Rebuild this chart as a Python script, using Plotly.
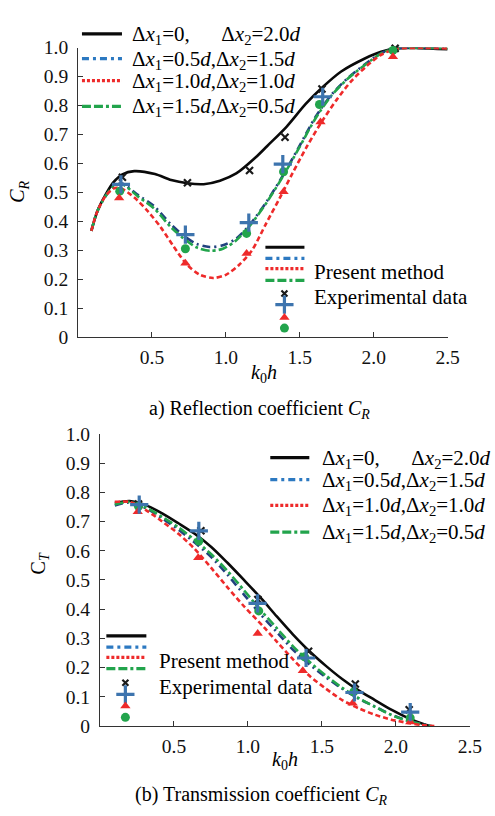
import plotly.graph_objects as go

# ---------------- (a) Reflection coefficient C_R : model curves ----------------
kR_black = [0.09, 0.13, 0.19, 0.24, 0.30, 0.38, 0.52, 0.63, 0.74, 0.85, 0.96, 1.07, 1.20, 1.28,
            1.41, 1.54, 1.65, 1.78, 1.94, 2.05, 2.16, 2.30, 2.50]
CR_black = [0.367, 0.434, 0.495, 0.535, 0.562, 0.573, 0.563, 0.542, 0.531, 0.528, 0.540, 0.565, 0.620, 0.660,
            0.726, 0.805, 0.861, 0.917, 0.962, 0.985, 0.997, 0.998, 0.994]

kR_blue = [0.09, 0.13, 0.19, 0.24, 0.297, 0.407, 0.517, 0.627, 0.715, 0.80, 0.89, 0.98, 1.067, 1.155,
           1.276, 1.386, 1.497, 1.606, 1.716, 1.826, 1.936, 2.046, 2.134, 2.30, 2.50]
CR_blue = [0.367, 0.434, 0.490, 0.520, 0.530, 0.490, 0.451, 0.390, 0.350, 0.322, 0.311, 0.317, 0.339, 0.384,
           0.468, 0.558, 0.659, 0.760, 0.838, 0.895, 0.940, 0.979, 0.996, 0.999, 0.997]

kR_green = [0.09, 0.13, 0.19, 0.24, 0.297, 0.407, 0.517, 0.627, 0.715, 0.80, 0.89, 0.98, 1.067, 1.155,
            1.276, 1.386, 1.497, 1.606, 1.716, 1.826, 1.936, 2.046, 2.134, 2.30, 2.50]
CR_green = [0.367, 0.434, 0.490, 0.520, 0.528, 0.485, 0.443, 0.380, 0.340, 0.310, 0.298, 0.305, 0.333, 0.380,
            0.465, 0.555, 0.655, 0.755, 0.835, 0.893, 0.938, 0.978, 0.995, 0.999, 0.997]

kR_red = [0.09, 0.13, 0.19, 0.25, 0.297, 0.385, 0.473, 0.561, 0.649, 0.737, 0.825, 0.913, 1.00, 1.089,
          1.177, 1.27, 1.364, 1.45, 1.55, 1.65, 1.75, 1.85, 1.95, 2.05, 2.15, 2.30, 2.50]
CR_red = [0.367, 0.434, 0.490, 0.515, 0.512, 0.480, 0.434, 0.378, 0.311, 0.250, 0.215, 0.204, 0.215, 0.249,
          0.300, 0.390, 0.480, 0.565, 0.660, 0.745, 0.820, 0.885, 0.935, 0.975, 0.995, 0.999, 0.997]

# ---------------- (a) experimental data ----------------
kR_exp_black = [0.30, 0.74, 1.16, 1.40, 1.65, 2.145]
CR_exp_black = [0.552, 0.533, 0.575, 0.690, 0.857, 0.997]
kR_exp_blue = [0.29, 0.726, 1.155, 1.385, 1.655, 2.128]
CR_exp_blue = [0.527, 0.354, 0.395, 0.597, 0.830, 1.003]
kR_exp_red = [0.278, 0.726, 1.14, 1.39, 1.64, 2.13]
CR_exp_red = [0.480, 0.255, 0.289, 0.502, 0.743, 0.968]
kR_exp_green = [0.282, 0.726, 1.14, 1.39, 1.633, 2.13]
CR_exp_green = [0.504, 0.305, 0.358, 0.571, 0.803, 0.990]

# ---------------- (b) Transmission coefficient C_T : model curves ----------------
kT_black = [0.10, 0.20, 0.31, 0.42, 0.53, 0.64, 0.752, 0.863, 0.973, 1.084, 1.195, 1.305, 1.416, 1.527,
            1.637, 1.748, 1.858, 1.969, 2.08, 2.19, 2.23]
CT_black = [0.763, 0.770, 0.756, 0.728, 0.694, 0.658, 0.613, 0.558, 0.500, 0.440, 0.375, 0.313, 0.256, 0.206,
            0.161, 0.122, 0.089, 0.056, 0.028, 0.006, 0.0]

kT_blue = [0.10, 0.20, 0.31, 0.42, 0.53, 0.64, 0.752, 0.863, 0.973, 1.084, 1.195, 1.305, 1.416, 1.527,
           1.637, 1.748, 1.858, 1.969, 2.08, 2.21, 2.24]
CT_blue = [0.755, 0.765, 0.745, 0.711, 0.672, 0.628, 0.578, 0.517, 0.450, 0.383, 0.322, 0.261, 0.211, 0.167,
           0.128, 0.094, 0.067, 0.039, 0.019, 0.003, 0.0]

kT_green = [0.10, 0.20, 0.31, 0.42, 0.53, 0.64, 0.752, 0.863, 0.973, 1.084, 1.195, 1.305, 1.416, 1.527,
            1.637, 1.748, 1.858, 1.969, 2.08, 2.20, 2.24]
CT_green = [0.758, 0.767, 0.748, 0.716, 0.680, 0.637, 0.588, 0.530, 0.465, 0.398, 0.335, 0.273, 0.220, 0.173,
            0.131, 0.096, 0.066, 0.038, 0.018, 0.003, 0.0]

kT_red = [0.10, 0.20, 0.31, 0.42, 0.53, 0.64, 0.752, 0.863, 0.973, 1.107, 1.195, 1.305, 1.416, 1.527,
          1.637, 1.748, 1.858, 1.969, 2.08, 2.17, 2.26]
CT_red = [0.767, 0.767, 0.739, 0.700, 0.658, 0.606, 0.541, 0.474, 0.410, 0.339, 0.289, 0.228, 0.172, 0.128,
          0.089, 0.061, 0.039, 0.022, 0.011, 0.004, 0.0]

# ---------------- (b) experimental data ----------------
kT_exp_black = [0.26, 0.682, 1.067, 1.41, 1.726, 2.09]
CT_exp_black = [0.760, 0.668, 0.433, 0.256, 0.144, 0.056]
kT_exp_blue = [0.265, 0.668, 1.065, 1.393, 1.72, 2.097]
CT_exp_blue = [0.758, 0.668, 0.420, 0.233, 0.115, 0.048]
kT_exp_red = [0.255, 0.664, 1.066, 1.371, 1.708, 2.097]
CT_exp_red = [0.733, 0.576, 0.317, 0.189, 0.078, 0.014]
kT_exp_green = [0.26, 0.668, 1.073, 1.383, 1.715, 2.097]
CT_exp_green = [0.752, 0.633, 0.394, 0.237, 0.117, 0.028]

# ---------------- labels ----------------
x_tick_vals = [0.5, 1.0, 1.5, 2.0, 2.5]
x_tick_text = ["0.5", "1.0", "1.5", "2.0", "2.5"]
y_tick_vals = [0, 0.1, 0.2, 0.3, 0.4, 0.5, 0.6, 0.7, 0.8, 0.9, 1.0]
y_tick_text = ["0", "0.1", "0.2", "0.3", "0.4", "0.5", "0.6", "0.7", "0.8", "0.9", "1.0"]
nb = "\u00a0"
series_labels = [
    "Δ<i>x</i><sub>1</sub>=0," + nb * 6 + "Δ<i>x</i><sub>2</sub>=2.0<i>d</i>",
    "Δ<i>x</i><sub>1</sub>=0.5<i>d</i>,Δ<i>x</i><sub>2</sub>=1.5<i>d</i>",
    "Δ<i>x</i><sub>1</sub>=1.0<i>d</i>,Δ<i>x</i><sub>2</sub>=1.0<i>d</i>",
    "Δ<i>x</i><sub>1</sub>=1.5<i>d</i>,Δ<i>x</i><sub>2</sub>=0.5<i>d</i>",
]
method_label = "Present method"
exp_label = "Experimental data"
caption_a = "a) Reflection coefficient <i>C</i><sub><i>R</i></sub>"
caption_b = "(b) Transmission coefficient <i>C</i><sub><i>R</i></sub>"
ytitle_a = "<i>C</i><sub><i>R</i></sub>"
ytitle_b = "C<sub><i>T</i></sub>"
xtitle = "<i>k</i><sub>0</sub><i>h</i>"

# ---------------- styles ----------------
FONT = "Liberation Serif, Times New Roman, serif"
C_BLACK = "#0a0a0a"
C_BLUE_LINE = "#22427f"
C_BLUE_KEY = "#2c79c1"
C_RED = "#ee2a2a"
C_GREEN = "#22a44c"
C_PLUS = "#3d74ae"
LW = 2.6
DASH_BLUE = "8px,4px,2px,4px"
DASH_RED = "5px,3px"
DASH_GREEN = "9px,3px,3px,3px"

fig = go.Figure()


def add_panel(xa, ya, k_list, v_list, exp_k, exp_v):
    colors = [C_BLACK, C_BLUE_LINE, C_RED, C_GREEN]
    dashes = ["solid", DASH_BLUE, DASH_RED, DASH_GREEN]
    order = [0, 1, 3, 2]
    for i in order:
        fig.add_trace(go.Scatter(x=k_list[i], y=v_list[i], mode="lines", xaxis=xa, yaxis=ya,
                                 line=dict(color=colors[i], width=LW, dash=dashes[i], shape="spline",
                                           smoothing=0.8),
                                 hoverinfo="skip", showlegend=False))
    msyms = ["x-thin", "cross-thin", "triangle-up", "circle"]
    mcols = ["#1a1a1a", C_PLUS, C_RED, C_GREEN]
    msize = [7, 13, 9, 9]
    mline = [2.2, 3.2, 0, 0]
    for i in [0, 3, 2, 1]:
        fig.add_trace(go.Scatter(x=exp_k[i], y=exp_v[i], mode="markers", xaxis=xa, yaxis=ya,
                                 marker=dict(symbol=msyms[i], size=msize[i], color=mcols[i],
                                             line=dict(color=mcols[i], width=mline[i])),
                                 cliponaxis=False, hoverinfo="skip", showlegend=False))


add_panel("x", "y",
          [kR_black, kR_blue, kR_red, kR_green], [CR_black, CR_blue, CR_red, CR_green],
          [kR_exp_black, kR_exp_blue, kR_exp_red, kR_exp_green],
          [CR_exp_black, CR_exp_blue, CR_exp_red, CR_exp_green])
add_panel("x2", "y2",
          [kT_black, kT_blue, kT_red, kT_green], [CT_black, CT_blue, CT_red, CT_green],
          [kT_exp_black, kT_exp_blue, kT_exp_red, kT_exp_green],
          [CT_exp_black, CT_exp_blue, CT_exp_red, CT_exp_green])

W, H = 495, 816
TICKFONT = dict(family=FONT, size=19.5, color="#111")


def xaxis_cfg(domain, anchor):
    return dict(domain=domain, anchor=anchor, range=[0, 2.5], tickvals=x_tick_vals, ticktext=x_tick_text,
                ticks="inside", ticklen=5, tickcolor="#333", showline=True, linecolor="#333", linewidth=1,
                showgrid=False, zeroline=False, tickfont=TICKFONT, fixedrange=True, ticklabelstandoff=3)


def yaxis_cfg(domain, anchor):
    return dict(domain=domain, anchor=anchor, range=[0, 1.0], tickvals=y_tick_vals, ticktext=y_tick_text,
                ticks="inside", ticklen=5, tickcolor="#333", showline=True, linecolor="#333", linewidth=1,
                showgrid=False, zeroline=False, tickfont=TICKFONT, fixedrange=True, ticklabelstandoff=5)


# legend / overlay layer in pixel coordinates
fig.add_trace(go.Scatter(x=[None], y=[None], xaxis="x3", yaxis="y3", showlegend=False, hoverinfo="skip"))

shapes = []
annotations = []
LEGFONT = dict(family=FONT, size=21, color="#000")
key_colors = [C_BLACK, C_BLUE_KEY, C_RED, C_GREEN]
key_dashes = ["solid", "7px,4px,3px,4px", "3px,2px", "9px,3px,9px,3px,3px,3px"]

# (legend positions: x0, x1, text x, rows y)
series_legends = [
    (84, 125, 133, [24.5, 50, 72.5, 99]),
    (277, 317, 328, [459.5, 482, 508.5, 536]),
]
for (x0, x1, tx, rows) in series_legends:
    for i, yy in enumerate(rows):
        shapes.append(dict(type="line", xref="x3", yref="y3", x0=x0, x1=x1, y0=yy, y1=yy,
                           line=dict(color=key_colors[i], width=3.2, dash=key_dashes[i])))
        annotations.append(dict(xref="x3", yref="y3", x=tx, y=yy + 1, text=series_labels[i], showarrow=False,
                                xanchor="left", yanchor="middle", font=LEGFONT))

group_legends = [
    (272, 312, [243.5, 255, 265.5, 277.5], 291.5, [291, 302.5, 315.5, 326.5], 320, 269, 295),
    (109, 150, [642.5, 654, 664.5, 676], 128.5, [690.5, 702.5, 714.5, 726], 161, 668, 695),
]
mk_syms = ["x-thin", "cross-thin", "triangle-up", "circle"]
mk_cols = ["#1a1a1a", C_PLUS, C_RED, C_GREEN]
mk_size = [6, 13, 9, 9]
mk_lw = [2.2, 3.2, 0, 0]
for (x0, x1, rows, mx, mrows, tx, ty1, ty2) in group_legends:
    for i, yy in enumerate(rows):
        shapes.append(dict(type="line", xref="x3", yref="y3", x0=x0, x1=x1, y0=yy, y1=yy,
                           line=dict(color=key_colors[i], width=3.2, dash=key_dashes[i])))
    for i, yy in enumerate(mrows):
        fig.add_trace(go.Scatter(x=[mx], y=[yy], mode="markers", xaxis="x3", yaxis="y3",
                                 marker=dict(symbol=mk_syms[i], size=mk_size[i], color=mk_cols[i],
                                             line=dict(color=mk_cols[i], width=mk_lw[i])),
                                 cliponaxis=False, hoverinfo="skip", showlegend=False))
    annotations.append(dict(xref="x3", yref="y3", x=tx, y=ty1, text=method_label, showarrow=False,
                            xanchor="left", yanchor="middle", font=LEGFONT))
    annotations.append(dict(xref="x3", yref="y3", x=tx, y=ty2, text=exp_label, showarrow=False,
                            xanchor="left", yanchor="middle", font=LEGFONT))

TF = dict(family=FONT, size=20, color="#000")
annotations += [
    dict(xref="x3", yref="y3", x=266, y=410, text=caption_a, showarrow=False, xanchor="center",
         yanchor="middle", font=TF),
    dict(xref="x3", yref="y3", x=268, y=806, text=caption_b, showarrow=False, xanchor="center",
         yanchor="middle", font=TF),
    dict(xref="x3", yref="y3", x=19, y=187, text=ytitle_a, showarrow=False, textangle=-90,
         xanchor="center", yanchor="middle", font=TF),
    dict(xref="x3", yref="y3", x=40, y=568, text=ytitle_b, showarrow=False, textangle=-90,
         xanchor="center", yanchor="middle", font=TF),
    dict(xref="x3", yref="y3", x=271, y=373, text=xtitle, showarrow=False, xanchor="center",
         yanchor="middle", font=TF),
    dict(xref="x3", yref="y3", x=292, y=770, text=xtitle, showarrow=False, xanchor="center",
         yanchor="middle", font=TF),
]

fig.update_layout(
    width=W, height=H, margin=dict(l=0, r=0, t=0, b=0, pad=0),
    paper_bgcolor="white", plot_bgcolor="rgba(0,0,0,0)", showlegend=False,
    font=dict(family=FONT, color="#000"),
    xaxis=xaxis_cfg([80 / W, 458.75 / W], "y"),
    yaxis=yaxis_cfg([1 - 335.7 / H, 1 - 38.5 / H], "x"),
    xaxis2=xaxis_cfg([102.5 / W, 481.5 / W], "y2"),
    yaxis2=yaxis_cfg([1 - 735 / H, 1 - 435 / H], "x2"),
    xaxis3=dict(domain=[0, 1], anchor="y3", range=[0, W], visible=False, fixedrange=True),
    yaxis3=dict(domain=[0, 1], anchor="x3", range=[H, 0], visible=False, fixedrange=True),
    shapes=shapes, annotations=annotations,
)

fig.write_html("out.html", config={"displayModeBar": False})
